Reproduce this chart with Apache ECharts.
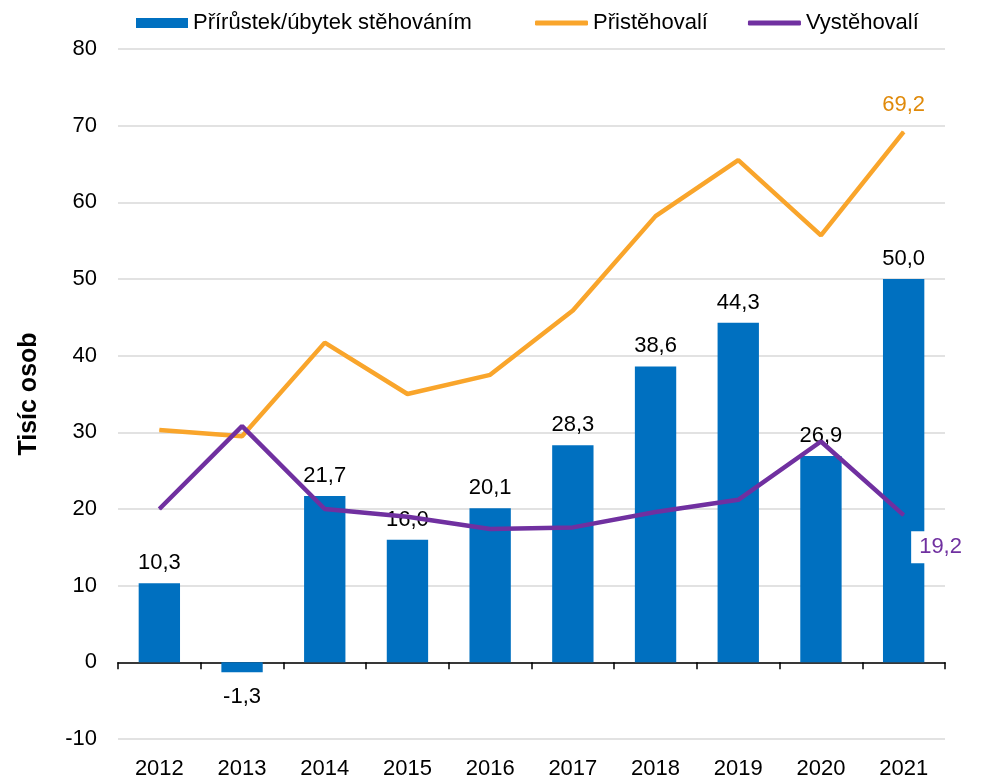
<!DOCTYPE html>
<html>
<head>
<meta charset="utf-8">
<script src="https://cdn.jsdelivr.net/npm/echarts@6/dist/echarts.min.js"></script>
<style>
  html, body { margin: 0; padding: 0; background: #fff; }
  #main { width: 982px; height: 780px; }
</style>
</head>
<body>
<div id="main"></div>
<script>
// roky a hodnoty (tis. osob)
var years = ['2012', '2013', '2014', '2015', '2016', '2017', '2018', '2019', '2020', '2021'];
var saldo = [10.3, -1.3, 21.7, 16.0, 20.1, 28.3, 38.6, 44.3, 26.9, 50.0];
var pristehovali = [30.3, 29.5, 41.7, 35.0, 37.5, 45.9, 58.2, 65.5, 55.7, 69.2];
var vystehovali = [20.0, 30.8, 20.0, 19.0, 17.4, 17.6, 19.6, 21.2, 28.8, 19.2];
var yTicks = [-10, 0, 10, 20, 30, 40, 50, 60, 70, 80];

var font = 'Liberation Sans, Arial, sans-serif';

function fmt(v) {
  return v.toFixed(1).replace('.', ',');
}

var chart = echarts.init(document.getElementById('main'));

var barData = saldo.map(function (v) {
  if (v < 0) return { value: v, label: { position: 'bottom', distance: 14 } };
  return v;
});

var last = years.length - 1;
var inData = pristehovali.map(function (v, i) {
  if (i === last) {
    return { value: v, label: { show: true, position: 'top', distance: 15, color: '#E08A0A' } };
  }
  return v;
});
var outData = vystehovali.map(function (v, i) {
  if (i === last) {
    return {
      value: v,
      label: {
        show: true, position: 'right', offset: [2, 32], color: '#7030A0',
        backgroundColor: '#fff', padding: [5, 4, 5, 8]
      }
    };
  }
  return v;
});

var legendText = { fontSize: 22, color: '#000', fontFamily: font };

var option = {
  animation: false,
  backgroundColor: '#fff',
  textStyle: { fontFamily: font },
  legend: [
    {
      top: 7,
      left: 131,
      itemWidth: 52,
      itemHeight: 10,
      textStyle: legendText,
      data: [{ name: 'Přírůstek/úbytek stěhováním', icon: 'rect' }]
    },
    {
      top: 7,
      left: 530,
      itemWidth: 53,
      itemHeight: 5,
      itemGap: 40,
      textStyle: legendText,
      data: [
        { name: 'Přistěhovalí', icon: 'roundRect' },
        { name: 'Vystěhovalí', icon: 'roundRect' }
      ]
    }
  ],
  grid: { left: 118, right: 37, top: 49, bottom: 39 },
  xAxis: [
    {
      type: 'category',
      data: years,
      position: 'bottom',
      axisLine: { show: false, onZero: false },
      axisTick: { show: false },
      axisLabel: { fontSize: 22, color: '#000', margin: 19, fontFamily: font }
    },
    {
      type: 'category',
      data: years,
      position: 'bottom',
      axisLine: { show: true, onZero: true, lineStyle: { color: '#000', width: 1.5 } },
      axisTick: { show: true, length: 7, lineStyle: { color: '#000', width: 1.5 } },
      axisLabel: { show: false }
    }
  ],
  yAxis: {
    type: 'value',
    min: yTicks[0],
    max: yTicks[yTicks.length - 1],
    interval: 10,
    name: 'Tisíc osob',
    nameLocation: 'middle',
    nameGap: 76,
    nameTextStyle: { fontSize: 25, fontWeight: 'bold', color: '#000', fontFamily: font },
    axisLine: { show: false },
    axisTick: { show: false },
    axisLabel: { fontSize: 22, color: '#000', margin: 21, fontFamily: font },
    splitLine: { lineStyle: { color: '#d9d9d9', width: 1.5 } }
  },
  series: [
    {
      name: 'Přírůstek/úbytek stěhováním',
      type: 'bar',
      xAxisIndex: 0,
      data: barData,
      barWidth: '50%',
      itemStyle: { color: '#0070C0' },
      label: {
        show: true, position: 'top', distance: 9, fontSize: 22, color: '#000',
        fontFamily: font,
        formatter: function (p) { return fmt(p.value); }
      },
      z: 2
    },
    {
      name: 'Přistěhovalí',
      type: 'line',
      xAxisIndex: 0,
      data: inData,
      symbol: 'circle',
      symbolSize: 1,
      itemStyle: { color: '#F9A52B' },
      lineStyle: { color: '#F9A52B', width: 4.5 },
      label: {
        show: false, fontSize: 22, fontFamily: font,
        formatter: function (p) { return fmt(p.value); }
      },
      z: 3
    },
    {
      name: 'Vystěhovalí',
      type: 'line',
      xAxisIndex: 0,
      data: outData,
      symbol: 'circle',
      symbolSize: 1,
      itemStyle: { color: '#7030A0' },
      lineStyle: { color: '#7030A0', width: 4.5 },
      label: {
        show: false, fontSize: 22, fontFamily: font,
        formatter: function (p) { return fmt(p.value); }
      },
      z: 4
    }
  ]
};

chart.setOption(option);

window.addEventListener('resize', function () {
  chart.resize();
});
</script>
</body>
</html>
